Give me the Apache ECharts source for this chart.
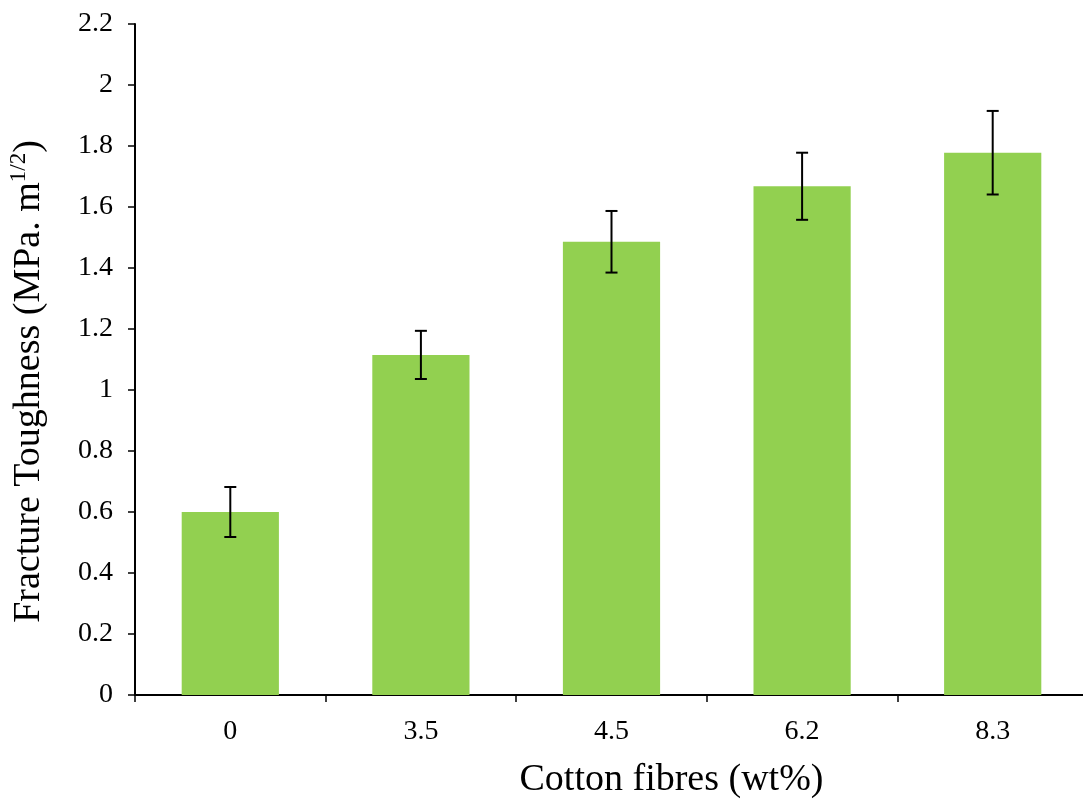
<!DOCTYPE html>
<html><head><meta charset="utf-8">
<script src="https://cdn.jsdelivr.net/npm/echarts@6/dist/echarts.min.js"></script>
<style>html,body{margin:0;padding:0;background:#fff}#c{width:1083px;height:805px}</style>
</head><body><div id="c"></div>
<script>
const categories = ['0', '3.5', '4.5', '6.2', '8.3'];
const values = [0.60, 1.115, 1.486, 1.668, 1.778];
const errors = [0.082, 0.079, 0.101, 0.11, 0.137];
const yTicks = [0, 0.2, 0.4, 0.6, 0.8, 1, 1.2, 1.4, 1.6, 1.8, 2, 2.2];

const font = 'Liberation Serif';
const chart = echarts.init(document.getElementById('c'));
chart.setOption({
  animation: false,
  backgroundColor: '#fff',
  grid: {left: 135, right: -5, top: 24, bottom: 110, containLabel: false, outerBoundsMode: 'none'},
  xAxis: {
    type: 'category', data: categories,
    axisLine: {lineStyle: {color: '#000', width: 2}},
    axisTick: {show: true, length: 7, lineStyle: {color: '#000', width: 1.5}},
    axisLabel: {color: '#000', fontFamily: font, fontSize: 28, margin: 23},
    name: 'Cotton fibres (wt%)', nameLocation: 'middle', nameGap: 66,
    nameTextStyle: {color: '#000', fontFamily: font, fontSize: 38, padding: [0, 0, 0, 120]}
  },
  yAxis: {
    type: 'value', min: 0, max: 2.2, interval: 0.2,
    splitLine: {show: false},
    axisLine: {show: true, lineStyle: {color: '#000', width: 2}},
    axisTick: {show: true, length: 7, lineStyle: {color: '#000', width: 1.5}},
    axisLabel: {color: '#000', fontFamily: font, fontSize: 28, margin: 22,
      formatter: v => { const t = yTicks.find(x => Math.abs(x - v) < 1e-6); return t === undefined ? '' : String(t); }},
    name: 'Fracture Toughness (MPa. m{sup|1/2})', nameLocation: 'middle', nameGap: 84,
    nameTextStyle: {color: '#000', fontFamily: font, fontSize: 38, lineHeight: 44, padding: [0, 44, 0, 0],
      rich: {sup: {fontFamily: font, fontSize: 23, verticalAlign: 'top', lineHeight: 44, padding: [0, 0, 18, 0], color: '#000'}}}
  },
  series: [
    {type: 'bar', data: values, barWidth: '51%', itemStyle: {color: '#92d050'}},
    {type: 'custom', data: values.map((v, i) => [i, v, errors[i]]), z: 10,
      renderItem: (params, api) => {
        const x = api.value(0), v = api.value(1), e = api.value(2);
        const hi = api.coord([x, v + e]), lo = api.coord([x, v - e]);
        const w = 6;
        const st = {stroke: '#000', lineWidth: 2};
        return {type: 'group', children: [
          {type: 'line', shape: {x1: hi[0], y1: hi[1], x2: lo[0], y2: lo[1]}, style: st},
          {type: 'line', shape: {x1: hi[0] - w, y1: hi[1], x2: hi[0] + w, y2: hi[1]}, style: st},
          {type: 'line', shape: {x1: lo[0] - w, y1: lo[1], x2: lo[0] + w, y2: lo[1]}, style: st}
        ]};
      }}
  ]
});
</script></body></html>
